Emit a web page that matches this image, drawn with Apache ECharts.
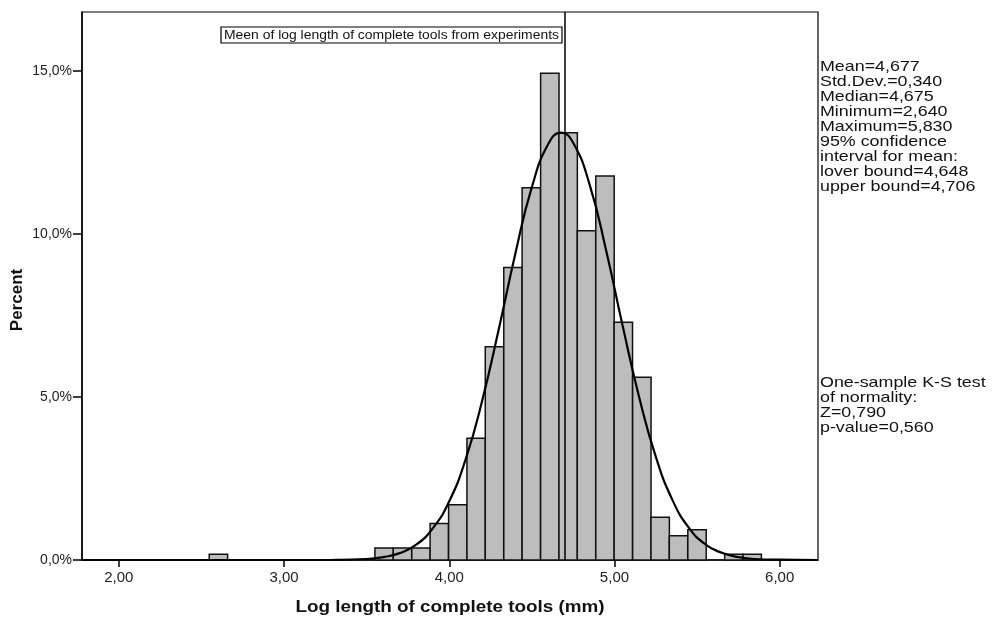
<!DOCTYPE html>
<html>
<head>
<meta charset="utf-8">
<script src="https://cdn.jsdelivr.net/npm/echarts@6/dist/echarts.min.js"></script>
<style>
html,body{margin:0;padding:0;background:#fff;}
#chart{width:1003px;height:619px;}
</style>
</head>
<body>
<div id="chart"></div>
<script>
// ---- data ----
const xTicks = [2, 3, 4, 5, 6];
const yTicks = [0, 5, 10, 15];
const binWidth = 0.1114;
const binStarts = [2.547, 3.550, 3.661, 3.773, 3.884, 3.996, 4.107, 4.218, 4.330, 4.441, 4.553, 4.664, 4.775, 4.887, 4.998, 5.110, 5.221, 5.332, 5.444, 5.667, 5.778];
const binPercents = [0.18, 0.37, 0.37, 0.37, 1.12, 1.69, 3.73, 6.54, 8.97, 11.41, 14.92, 13.10, 10.09, 11.77, 7.29, 5.60, 1.31, 0.74, 0.93, 0.18, 0.18];
const curveX = [1.78, 3.0, 3.3, 3.5, 3.6, 3.7, 3.8, 3.9, 4.0, 4.1, 4.2, 4.3, 4.4, 4.5, 4.6, 4.677, 4.75, 4.85, 4.95, 5.05, 5.15, 5.25, 5.35, 5.45, 5.55, 5.65, 5.75, 5.85, 6.0, 6.23];
const curveY = [0, 0, 0.004, 0.03, 0.09, 0.21, 0.47, 0.97, 1.80, 3.10, 4.90, 7.08, 9.39, 11.43, 12.76, 13.10, 12.79, 11.50, 9.48, 7.17, 4.98, 3.17, 1.85, 0.99, 0.48, 0.22, 0.09, 0.03, 0.01, 0];
const refLineX = 4.70;
const refLabel = 'Meen of log length of complete tools from experiments';
const statsLines = ['Mean=4,677', 'Std.Dev.=0,340', 'Median=4,675', 'Minimum=2,640', 'Maximum=5,830', '95% confidence', 'interval for mean:', 'lover bound=4,648', 'upper bound=4,706'];
const ksLines = ['One-sample K-S test', 'of normality:', 'Z=0,790', 'p-value=0,560'];
const xTitle = 'Log length of complete tools (mm)';
const yTitle = 'Percent';

const histData = binStarts.map((s, i) => [s, s + binWidth, binPercents[i]]);
const curveData = curveX.map((x, i) => [x, curveY[i]]);

const chart = echarts.init(document.getElementById('chart'), null, {renderer: 'canvas'});
const FONT = 'Liberation Sans, Arial, sans-serif';

chart.setOption({
  animation: false,
  backgroundColor: '#fff',
  grid: {left: 82, top: 12, right: 185, bottom: 59, show: true, borderColor: '#000', borderWidth: 1.2, backgroundColor: 'transparent'},
  xAxis: {
    type: 'value', min: 1.777, max: 6.232,
    axisLine: {show: true, onZero: false, lineStyle: {color: '#000', width: 1.5}},
    axisTick: {show: true, customValues: xTicks, length: 7, lineStyle: {color: '#000', width: 1.5}},
    axisLabel: {customValues: xTicks, formatter: v => v.toFixed(2).replace('.', ','), fontFamily: FONT, fontSize: 15, color: '#222', margin: 10},
    splitLine: {show: false}
  },
  yAxis: {
    type: 'value', min: 0, max: 16.8,
    axisLine: {show: true, lineStyle: {color: '#000', width: 1.5}},
    axisTick: {show: true, customValues: yTicks, length: 9, lineStyle: {color: '#000', width: 1.5}},
    axisLabel: {customValues: yTicks, formatter: v => v.toFixed(1).replace('.', ',') + '%', fontFamily: FONT, fontSize: 14, color: '#222', margin: 10},
    splitLine: {show: false}
  },
  series: [
    {
      type: 'custom',
      data: histData,
      encode: {x: [0, 1], y: 2},
      renderItem: function (params, api) {
        const p0 = api.coord([api.value(0), 0]);
        const p1 = api.coord([api.value(1), api.value(2)]);
        return {
          type: 'rect',
          shape: {x: p0[0], y: p1[1], width: p1[0] - p0[0], height: p0[1] - p1[1]},
          style: {fill: '#bdbdbd', stroke: '#111', lineWidth: 1.5}
        };
      },
      z: 2
    },
    {
      type: 'line',
      data: curveData,
      smooth: true,
      symbol: 'none',
      lineStyle: {color: '#000', width: 2.2},
      z: 3,
      markLine: {
        silent: true, symbol: 'none', label: {show: false},
        lineStyle: {color: '#000', width: 1.5, type: 'solid'},
        data: [{xAxis: refLineX}]
      }
    }
  ],
  graphic: [
    {
      type: 'rect', x: 221, y: 27, z: 10,
      shape: {x: 0, y: 0, width: 341, height: 16}, style: {fill: '#fff', stroke: '#000', lineWidth: 1.2}
    },
    {
      type: 'text', x: 391.5, y: 35.5, scaleX: 1.16, z: 11,
      style: {text: refLabel, font: '12px Liberation Sans, Arial, sans-serif', fill: '#111', align: 'center', verticalAlign: 'middle'}
    },
    {
      type: 'text', x: 820, y: 59, scaleX: 1.19, z: 10,
      style: {text: statsLines.join('\n'), font: '15px Liberation Sans, Arial, sans-serif', lineHeight: 15, fill: '#111'}
    },
    {
      type: 'text', x: 820, y: 375, scaleX: 1.19, z: 10,
      style: {text: ksLines.join('\n'), font: '15px Liberation Sans, Arial, sans-serif', lineHeight: 15, fill: '#111'}
    },
    {
      type: 'text', x: 17, y: 300, rotation: Math.PI / 2, z: 10,
      style: {text: yTitle, font: 'bold 17px Liberation Sans, Arial, sans-serif', fill: '#111', align: 'center', verticalAlign: 'middle'}
    },
    {
      type: 'text', x: 450, y: 607, scaleX: 1.11, z: 10,
      style: {text: xTitle, font: 'bold 17px Liberation Sans, Arial, sans-serif', fill: '#111', align: 'center', verticalAlign: 'middle'}
    }
  ]
});
</script>
</body>
</html>
